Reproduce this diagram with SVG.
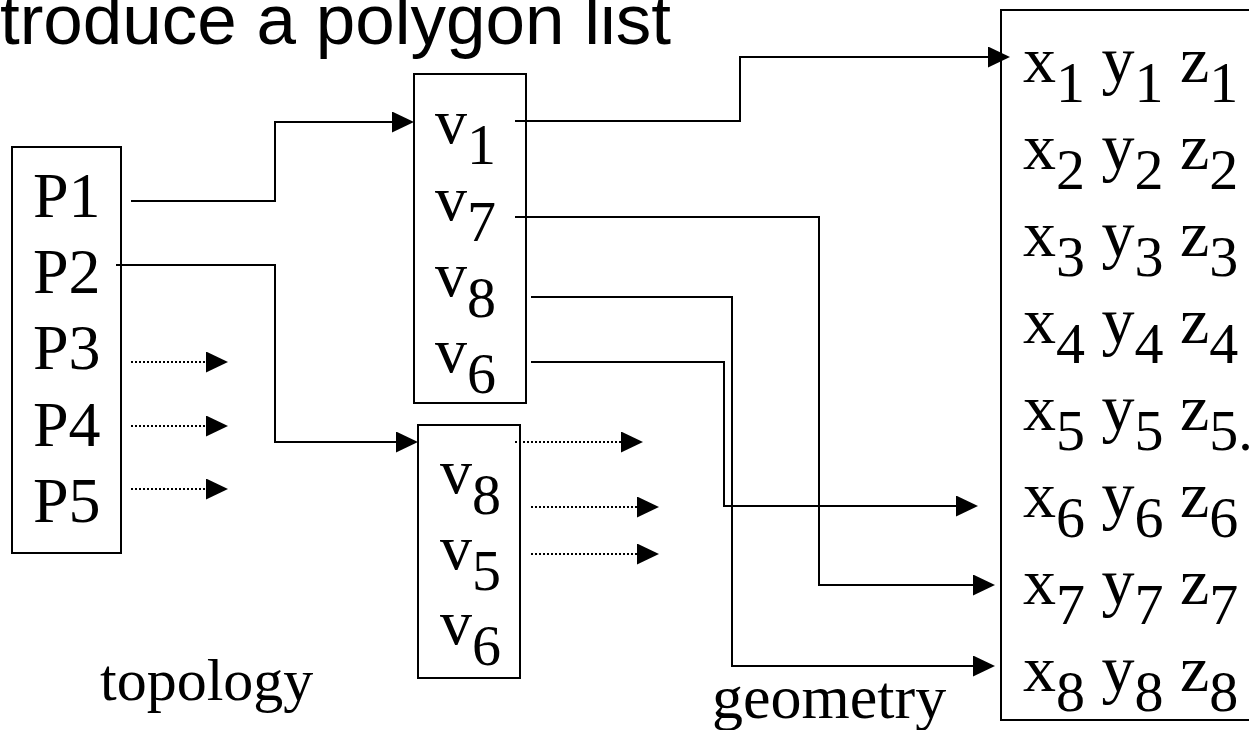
<svg xmlns="http://www.w3.org/2000/svg" width="1249" height="730" viewBox="0 0 1249 730">
<style>
.t{font-family:"Liberation Serif","Times New Roman",serif;font-size:64px;fill:#000}
.g{font-size:66px}
.s{font-size:58px}
.box{fill:#fff;stroke:#000;stroke-width:2}
.ln{fill:none;stroke:#000;stroke-width:2}
.dot{fill:none;stroke:#000;stroke-width:2;stroke-dasharray:2 2}
.title{font-family:"Liberation Sans",Arial,sans-serif;font-size:71px;fill:#000}
</style>
<defs>
<marker id="ah" markerUnits="userSpaceOnUse" markerWidth="22" markerHeight="21" refX="12" refY="10.5" orient="auto">
<path d="M0,0 L22,10.5 L0,21 z" fill="#000"/>
</marker>
</defs>
<rect width="1249" height="730" fill="#fff"/>
<text class="title" x="0" y="44">troduce a polygon list</text>

<g id="poly-box">
<rect class="box" x="12" y="147" width="109" height="406"/>
<text class="t" x="33" y="217">P1</text>
<text class="t" x="33" y="293">P2</text>
<text class="t" x="33" y="369">P3</text>
<text class="t" x="33" y="446">P4</text>
<text class="t" x="33" y="522">P5</text>
</g>

<g id="vlist1">
<rect class="box" x="414" y="74" width="112" height="329"/>
<text class="t" x="435" y="143">v<tspan class="s" dy="21">1</tspan></text>
<text class="t" x="435" y="220">v<tspan class="s" dy="21">7</tspan></text>
<text class="t" x="435" y="296">v<tspan class="s" dy="21">8</tspan></text>
<text class="t" x="435" y="372">v<tspan class="s" dy="21">6</tspan></text>
</g>

<g id="vlist2">
<rect class="box" x="418" y="425" width="102" height="253"/>
<text class="t" x="440" y="493">v<tspan class="s" dy="21">8</tspan></text>
<text class="t" x="440" y="569">v<tspan class="s" dy="21">5</tspan></text>
<text class="t" x="440" y="644">v<tspan class="s" dy="21">6</tspan></text>
</g>

<g id="geom-box">
<rect class="box" x="1001" y="10" width="260" height="710"/>
<text class="t g" x="1023" y="82">x<tspan class="s" dy="20">1</tspan><tspan dy="-20"> y</tspan><tspan class="s" dy="20">1</tspan><tspan dy="-20"> z</tspan><tspan class="s" dy="20">1</tspan></text>
<text class="t g" x="1023" y="169">x<tspan class="s" dy="20">2</tspan><tspan dy="-20"> y</tspan><tspan class="s" dy="20">2</tspan><tspan dy="-20"> z</tspan><tspan class="s" dy="20">2</tspan></text>
<text class="t g" x="1023" y="256">x<tspan class="s" dy="20">3</tspan><tspan dy="-20"> y</tspan><tspan class="s" dy="20">3</tspan><tspan dy="-20"> z</tspan><tspan class="s" dy="20">3</tspan></text>
<text class="t g" x="1023" y="343">x<tspan class="s" dy="20">4</tspan><tspan dy="-20"> y</tspan><tspan class="s" dy="20">4</tspan><tspan dy="-20"> z</tspan><tspan class="s" dy="20">4</tspan></text>
<text class="t g" x="1023" y="430">x<tspan class="s" dy="20">5</tspan><tspan dy="-20"> y</tspan><tspan class="s" dy="20">5</tspan><tspan dy="-20"> z</tspan><tspan class="s" dy="20">5.</tspan></text>
<text class="t g" x="1023" y="517">x<tspan class="s" dy="20">6</tspan><tspan dy="-20"> y</tspan><tspan class="s" dy="20">6</tspan><tspan dy="-20"> z</tspan><tspan class="s" dy="20">6</tspan></text>
<text class="t g" x="1023" y="604">x<tspan class="s" dy="20">7</tspan><tspan dy="-20"> y</tspan><tspan class="s" dy="20">7</tspan><tspan dy="-20"> z</tspan><tspan class="s" dy="20">7</tspan></text>
<text class="t g" x="1023" y="691">x<tspan class="s" dy="20">8</tspan><tspan dy="-20"> y</tspan><tspan class="s" dy="20">8</tspan><tspan dy="-20"> z</tspan><tspan class="s" dy="20">8</tspan></text>
</g>

<g id="label-topology"><text class="t" x="100" y="700" style="font-size:60px">topology</text></g>
<g id="label-geometry"><text class="t" x="712" y="718" style="font-size:62px">geometry</text></g>

<g id="connectors">
<path class="ln" d="M131,201 H275 V122 H404" marker-end="url(#ah)"/>
<path class="ln" d="M116,265 H275 V442 H408" marker-end="url(#ah)"/>
<path class="ln" d="M515,121 H740 V57 H1000" marker-end="url(#ah)"/>
<path class="ln" d="M515,217 H819 V585 H985" marker-end="url(#ah)"/>
<path class="ln" d="M531,297 H732 V666 H985" marker-end="url(#ah)"/>
<path class="ln" d="M531,362 H724 V506 H968" marker-end="url(#ah)"/>
<path class="dot" d="M131,362 H218" marker-end="url(#ah)"/>
<path class="dot" d="M131,426 H218" marker-end="url(#ah)"/>
<path class="dot" d="M131,489 H218" marker-end="url(#ah)"/>
<path class="dot" d="M515,442 H633" marker-end="url(#ah)"/>
<path class="dot" d="M531,507 H649" marker-end="url(#ah)"/>
<path class="dot" d="M531,554 H649" marker-end="url(#ah)"/>
</g>
</svg>
